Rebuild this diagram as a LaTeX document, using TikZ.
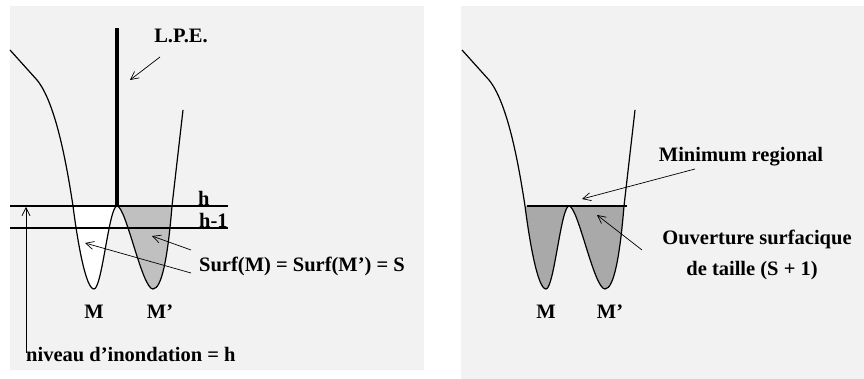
\documentclass[tikz,border=0pt]{standalone}
\usepackage{fontspec}
\setmainfont{Liberation Serif}
\usepackage{xcolor}
\definecolor{FondGris}{RGB}{242,242,242}
\definecolor{BassinClair}{RGB}{192,192,192}
\definecolor{BassinFonce}{RGB}{169,169,169}
\usetikzlibrary{arrows.meta}

% relief : bassins des minima M et M'
\newcommand{\bassinM}{(73,206) .. controls (78,245) and (86,289) .. (94,289)
  .. controls (102,289) and (109,206) .. (117,206)}
\newcommand{\bassinMp}{.. controls (126,206) and (142,289) .. (153,289)
  .. controls (162,289) and (168,255) .. (172,206)}

\begin{document}
\begin{tikzpicture}[x=1pt,y=-1pt,
    texte/.style={font=\bfseries\fontsize{20.5}{25}\selectfont, inner sep=0pt},
    courbe/.style={line width=1.2pt, line join=round},
    niveau/.style={line width=1.2pt},
    fleche/.style={line width=0.7pt, -{Straight Barb[length=8pt,width=8pt]}}]
\useasboundingbox (0,0) rectangle (864,379);
% fonds
\fill[FondGris] (10,6) rectangle (424,370);
\fill[FondGris] (461,6) rectangle (864,379);

% ---- Inondation au niveau h
\fill[white] \bassinM -- cycle;
\fill[BassinClair] (117,206) \bassinMp -- cycle;
\draw[courbe] (10,50) -- (37,80) .. controls (55,102) and (66,160) .. \bassinM \bassinMp -- (183,110);
% ligne de partage des eaux
\draw[line width=4pt] (117,28) -- (117,206);
% niveaux h et h-1
\draw[niveau] (10,206) -- (228,206);
\draw[niveau] (10,228) -- (228,228);
\node[texte, anchor=base west] (h) at (198,206) {h};
\node[texte, anchor=base west] (hmoins) at (199,228) {h-1};
\node[texte, anchor=base] (lpe) at (181,43) {L.P.E.};
\node[texte, anchor=base west] (surf) at (199,272) {Surf(M) = Surf(M’) = S};
\node[texte, anchor=base] (m) at (94,318) {M};
\node[texte, anchor=base] (mp) at (160,318) {M’};
\node[texte, anchor=base west] (inond) at (26,361) {niveau d’inondation = h};
\coordinate (lpeA) at (160,57);   \coordinate (lpeB) at (130,80);
\coordinate (surfA) at (191,250); \coordinate (surfB) at (152,236);
\coordinate (surfC) at (191,273); \coordinate (surfD) at (85,243);
\coordinate (inondA) at (26,353); \coordinate (inondB) at (26,207);
\draw[fleche] (lpeA) -- (lpeB);
\draw[fleche] (surfA) -- (surfB);
\draw[fleche] (surfC) -- (surfD);
\draw[fleche] (inondA) -- (inondB);

% ---- Ouverture surfacique
\begin{scope}[xshift=452]
\fill[BassinFonce] \bassinM \bassinMp -- cycle;
\draw[courbe] (10,50) -- (37,80) .. controls (55,102) and (66,160) .. \bassinM \bassinMp -- (183,110);
\draw[niveau] (75,206) -- (175,206);
\end{scope}
\node[texte, anchor=base] (minreg) at (741,162) {Minimum regional};
\node[texte, anchor=base] (ouvert) at (757,245) {Ouverture surfacique};
\node[texte, anchor=base] (taille) at (752,276) {de taille (S + 1)};
\node[texte, anchor=base] (m2) at (546,318) {M};
\node[texte, anchor=base] (mp2) at (610,318) {M’};
\coordinate (minA) at (695,169); \coordinate (minB) at (582,199);
\coordinate (ouvA) at (642,250); \coordinate (ouvB) at (597,215);
\draw[fleche] (minA) -- (minB);
\draw[fleche] (ouvA) -- (ouvB);
\end{tikzpicture}
\end{document}
